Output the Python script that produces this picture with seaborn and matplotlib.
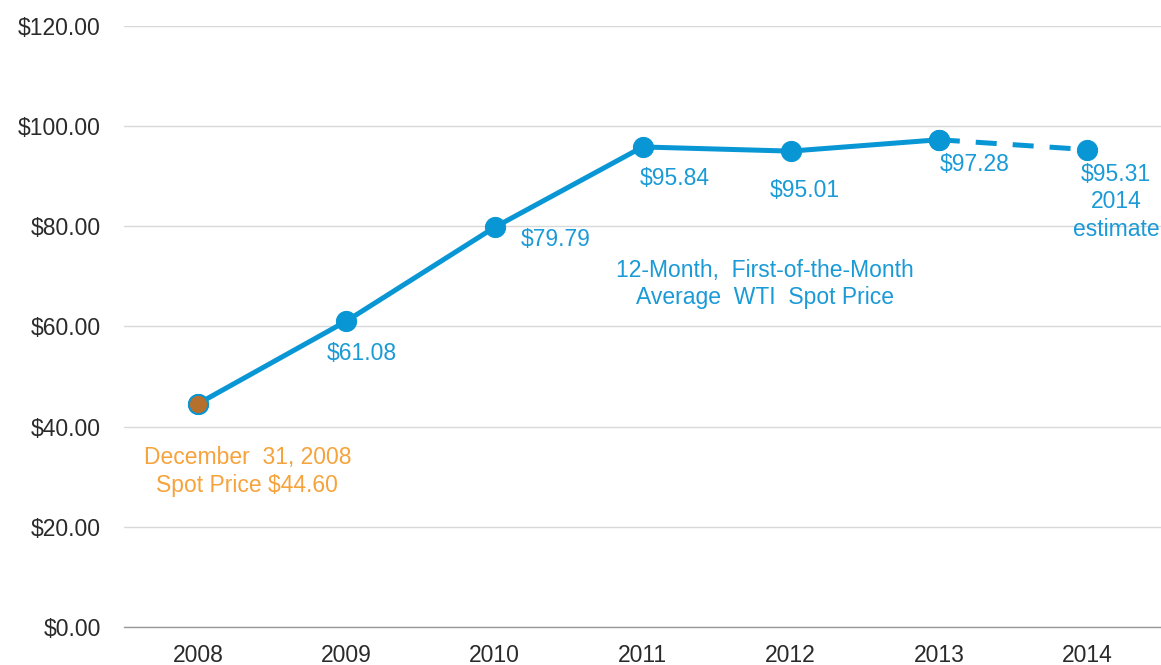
import matplotlib
matplotlib.use("Agg")
import matplotlib.pyplot as plt
import seaborn as sns
import pandas as pd

years = ["2008", "2009", "2010", "2011", "2012", "2013", "2014"]
prices = [44.60, 61.08, 79.79, 95.84, 95.01, 97.28, 95.31]
value_labels = ["$61.08", "$79.79", "$95.84", "$95.01", "$97.28", "$95.31\n2014\nestimate"]
yticks = [0, 20, 40, 60, 80, 100, 120]

sns.set_theme(style="white")
plt.rcParams['font.family'] = ['Liberation Sans', 'DejaVu Sans']

BLUE = "#0896D4"
LBLUE = "#1A9AD6"
ORANGE = "#F7A33C"
BROWN = "#B5702E"
FS = 16.5

df = pd.DataFrame({"year": years, "price": prices})
df["pos"] = range(len(years))
solid = df.iloc[:6]
dashed = df.iloc[5:]

fig = plt.figure(figsize=(11.61, 6.65), dpi=100)
ax = fig.add_axes([0.107, 0.0571, 0.893, 0.9039])

sns.lineplot(data=solid, x="pos", y="price", ax=ax, color=BLUE, linewidth=3.6,
             marker="o", markersize=14.5, markeredgecolor=BLUE, markerfacecolor=BLUE)
sns.lineplot(data=dashed, x="pos", y="price", ax=ax, color=BLUE, linewidth=3.6,
             linestyle=(0, (4.2, 3.2)), marker="o", markersize=14.5,
             markeredgecolor=BLUE, markerfacecolor=BLUE)
# 2008 spot price marker
sns.scatterplot(data=df.iloc[:1], x="pos", y="price", ax=ax, s=190, color=BROWN,
                edgecolor=BLUE, linewidth=1.3, zorder=5)

ax.set_xlim(-0.5, len(years) - 0.5)
ax.set_ylim(0, 120)
ax.set_xticks(range(len(years)))
ax.set_xticklabels(years)
ax.set_yticks(yticks)
ax.set_yticklabels([f"${v:.2f}" for v in yticks])
ax.tick_params(axis="both", length=0, labelsize=FS, colors="#2A2A2A")
ax.tick_params(axis="x", pad=12)
ax.tick_params(axis="y", pad=17)
ax.set_xlabel("")
ax.set_ylabel("")
ax.grid(axis="y", color="#D9D9D9", linewidth=1)
ax.grid(axis="x", visible=False)
for s in ["top", "right", "left"]:
    ax.spines[s].set_visible(False)
ax.spines["bottom"].set_color("#999999")
ax.spines["bottom"].set_linewidth(1)

offsets = [(15, -32), (61, -12), (32, -32), (14, -39), (36, -25), (29, -52)]
for i, (lab, off) in enumerate(zip(value_labels, offsets), start=1):
    px = off[0] * 0.72
    py = off[1] * 0.72
    ax.annotate(lab, xy=(df["pos"][i], df["price"][i]), xytext=(px, py),
                textcoords="offset points", ha="center", va="center",
                color=LBLUE, fontsize=FS, linespacing=1.25)

ax.annotate("12-Month,  First-of-the-Month\nAverage  WTI  Spot Price",
            xy=(3, df["price"][3]), xytext=(122 * 0.72, -137 * 0.72),
            textcoords="offset points", ha="center", va="center",
            color=LBLUE, fontsize=FS, linespacing=1.25)
ax.annotate("December  31, 2008\nSpot Price $44.60",
            xy=(0, df["price"][0]), xytext=(49 * 0.72, -68 * 0.72),
            textcoords="offset points", ha="center", va="center",
            color=ORANGE, fontsize=FS, linespacing=1.25)

fig.savefig("out.png", dpi=100)
